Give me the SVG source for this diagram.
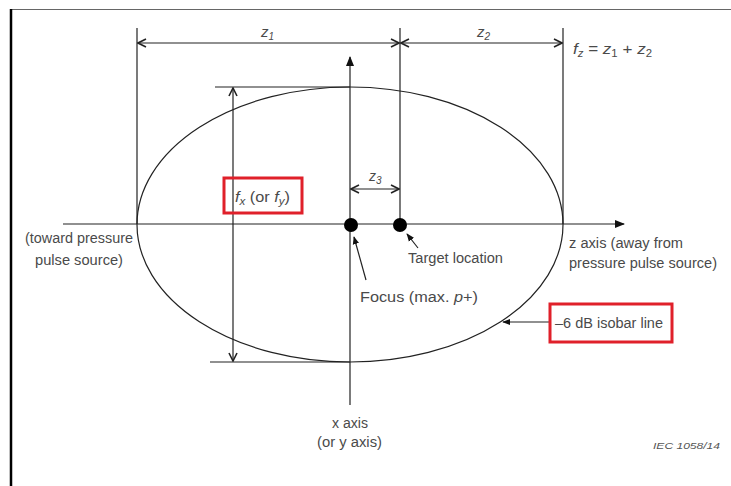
<svg xmlns="http://www.w3.org/2000/svg" width="731" height="486" viewBox="0 0 731 486">
<defs>
<marker id="open" viewBox="0 0 10 10" refX="9" refY="5" markerWidth="10" markerHeight="10" markerUnits="userSpaceOnUse" orient="auto-start-reverse">
<path d="M1,1 L9,5 L1,9" fill="none" stroke="#222" stroke-width="1.6"/>
</marker>
<marker id="fill" viewBox="0 0 10 10" refX="9" refY="5" markerWidth="10" markerHeight="10" markerUnits="userSpaceOnUse" orient="auto">
<path d="M0,1 L10,5 L0,9 Z" fill="#111"/>
</marker>
<marker id="fillsm" viewBox="0 0 10 10" refX="9" refY="5" markerWidth="8" markerHeight="8" markerUnits="userSpaceOnUse" orient="auto">
<path d="M0,1 L10,5 L0,9 Z" fill="#111"/>
</marker>
</defs>
<style>
.ln{stroke:#222;stroke-width:1.2;fill:none}
.t{font-family:"Liberation Sans",Arial,sans-serif;font-size:14px;fill:#4a4a4a}
.big{font-size:15px}
.sub{font-size:10px}
.red{fill:none;stroke:#e0202a;stroke-width:3}
</style>
<rect width="731" height="486" fill="#fff"/>
<line x1="10" y1="9.5" x2="731" y2="9.5" stroke="#666" stroke-width="1.2"/>
<line x1="11" y1="9" x2="11" y2="486" stroke="#000" stroke-width="2.5"/>

<g id="ellipse"><ellipse cx="350" cy="224.5" rx="213" ry="137.5" class="ln"/></g>

<g id="connectors">
<line class="ln" x1="63" y1="224" x2="624" y2="224" marker-end="url(#fill)"/>
<line class="ln" x1="350" y1="405" x2="350" y2="57" marker-end="url(#fill)"/>
<line class="ln" x1="137" y1="28" x2="137" y2="224"/>
<line class="ln" x1="400" y1="28" x2="400" y2="224"/>
<line class="ln" x1="563" y1="28" x2="563" y2="224"/>
<line class="ln" x1="138" y1="43" x2="399" y2="43" marker-start="url(#open)" marker-end="url(#open)"/>
<line class="ln" x1="401" y1="43" x2="562" y2="43" marker-start="url(#open)" marker-end="url(#open)"/>
<line class="ln" x1="215" y1="87" x2="350" y2="87"/>
<line class="ln" x1="210" y1="362" x2="350" y2="362"/>
<line class="ln" x1="233" y1="88" x2="233" y2="361" marker-start="url(#open)" marker-end="url(#open)"/>
<line class="ln" x1="351" y1="189" x2="399" y2="189" marker-start="url(#open)" marker-end="url(#open)"/>
<line class="ln" x1="366" y1="280" x2="354" y2="237" marker-end="url(#fillsm)"/>
<line class="ln" x1="418" y1="248" x2="407" y2="234" marker-end="url(#fillsm)"/>
<line class="ln" x1="549" y1="322" x2="503" y2="322" marker-end="url(#fillsm)"/>
</g>

<g id="focus"><circle cx="351" cy="225" r="7" fill="#000"/><text class="t" x="360" y="302" textLength="118" lengthAdjust="spacingAndGlyphs">Focus (max. <tspan font-style="italic">p</tspan>+)</text></g>
<g id="target"><circle cx="400" cy="225" r="7" fill="#000"/><text class="t" x="408" y="263" textLength="95" lengthAdjust="spacingAndGlyphs">Target location</text></g>

<g id="z1"><text class="t big" x="261" y="37" font-style="italic">z<tspan class="sub" dy="3">1</tspan></text></g>
<g id="z2"><text class="t big" x="477" y="37" font-style="italic">z<tspan class="sub" dy="3">2</tspan></text></g>
<g id="fz"><text class="t big" x="573" y="54" textLength="79" lengthAdjust="spacingAndGlyphs"><tspan font-style="italic">f</tspan><tspan class="sub" dy="3" font-style="italic">z</tspan><tspan dy="-3"> = </tspan><tspan font-style="italic">z</tspan><tspan class="sub" dy="3">1</tspan><tspan dy="-3"> + </tspan><tspan font-style="italic">z</tspan><tspan class="sub" dy="3">2</tspan></text></g>
<g id="z3"><text class="t" x="369" y="181" font-style="italic">z<tspan class="sub" dy="3">3</tspan></text></g>

<g id="fx"><rect class="red" x="224" y="178" width="78" height="35"/><text class="t" x="235" y="202" textLength="55" lengthAdjust="spacingAndGlyphs"><tspan font-style="italic">f</tspan><tspan class="sub" dy="3" font-style="italic">x</tspan><tspan dy="-3"> (or </tspan><tspan font-style="italic">f</tspan><tspan class="sub" dy="3" font-style="italic">y</tspan><tspan dy="-3">)</tspan></text></g>

<g id="toward"><text class="t" x="25" y="243" textLength="108" lengthAdjust="spacingAndGlyphs">(toward pressure</text><text class="t" x="35" y="265" textLength="88" lengthAdjust="spacingAndGlyphs">pulse source)</text></g>
<g id="zaxis"><text class="t" x="569" y="248" textLength="114" lengthAdjust="spacingAndGlyphs">z axis (away from</text><text class="t" x="569" y="268" textLength="148" lengthAdjust="spacingAndGlyphs">pressure pulse source)</text></g>

<g id="isobar"><rect class="red" x="550" y="304" width="122" height="38"/><text class="t" x="555" y="328" textLength="108" lengthAdjust="spacingAndGlyphs">–6 dB isobar line</text></g>

<g id="xaxis"><text class="t" x="332" y="428" textLength="36" lengthAdjust="spacingAndGlyphs">x axis</text><text class="t" x="317" y="447" textLength="65" lengthAdjust="spacingAndGlyphs">(or y axis)</text></g>

<g id="iec"><text x="653" y="449" font-family="Liberation Sans,Arial,sans-serif" font-size="9" font-style="italic" fill="#555" textLength="67" lengthAdjust="spacingAndGlyphs">IEC  1058/14</text></g>
</svg>
